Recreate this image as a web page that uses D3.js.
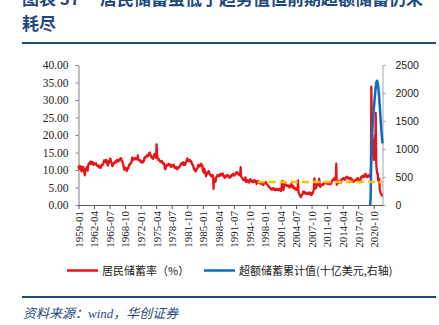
<!DOCTYPE html>
<html><head><meta charset="utf-8">
<script src="https://cdn.jsdelivr.net/npm/d3@7"></script>
<style>body{margin:0;background:#fff}svg{display:block}</style>
</head><body>
<svg id="c" width="439" height="325"></svg>
<script>
// ---------- data ----------
const startMonth = "1959-01";
// US personal saving rate (%), monthly from 1959-01
const savingRate = [
11.2,10.6,10.3,11.2,10.6,10.8,11.0,9.8,9.6,10.2,10.8,10.9,
10.9,10.4,9.6,9.1,8.5,9.8,10.2,10.0,10.5,10.9,10.4,9.8,
11.0,11.6,11.9,11.8,12.1,12.0,12.4,11.7,12.1,12.3,12.2,12.3,
11.7,11.5,11.9,12.0,11.8,11.9,11.7,11.6,11.9,11.5,11.3,11.4,
11.1,11.0,11.3,10.9,10.7,10.9,10.8,11.0,10.6,11.2,11.4,11.5,
11.3,11.6,11.9,12.3,12.7,12.5,12.6,12.2,12.9,12.4,12.8,12.7,
11.8,11.5,11.3,11.8,12.1,12.6,12.5,13.0,13.3,12.6,12.2,12.1,
11.6,11.1,11.2,11.9,11.7,12.0,11.9,12.3,12.4,12.5,12.2,12.5,
12.7,12.9,12.6,12.8,12.4,12.7,12.9,13.0,12.9,13.3,13.4,13.3,
12.8,12.6,12.4,12.0,11.6,11.2,10.4,10.1,10.3,10.2,10.6,10.5,
10.0,9.7,10.1,10.3,10.6,10.4,11.0,11.4,11.6,11.5,11.8,11.9,
12.1,12.3,12.7,13.6,13.0,12.9,13.1,13.2,13.0,13.4,13.3,13.1,
13.3,13.4,13.1,13.0,13.4,14.2,13.1,13.0,12.8,12.7,12.6,12.8,
12.4,12.2,12.3,12.4,12.5,12.1,12.3,12.6,12.5,13.2,13.6,13.4,
13.5,13.8,13.9,14.0,14.1,14.3,13.9,14.2,14.3,14.7,14.9,15.0,
14.5,14.2,14.0,13.6,13.5,13.8,13.6,13.2,13.5,13.8,14.2,14.6,
14.0,13.8,13.5,13.9,17.3,15.6,13.6,13.2,12.9,13.2,13.0,12.8,
12.6,12.4,12.5,12.3,12.4,12.6,12.3,12.0,11.8,11.9,12.0,11.8,
11.0,10.4,10.2,10.6,10.9,11.2,11.5,11.3,11.5,11.4,11.6,11.8,
11.4,11.6,11.3,11.1,10.9,11.2,11.3,11.4,11.2,11.0,11.3,11.5,
11.2,10.9,10.8,10.5,10.7,10.9,10.6,10.3,10.2,10.5,10.6,10.8,
10.7,10.8,11.0,11.3,11.5,11.7,11.9,12.0,11.8,11.6,11.9,12.2,
11.6,11.4,11.7,11.8,11.5,12.0,12.3,12.6,12.9,13.3,13.0,12.6,
12.5,12.6,12.8,12.9,12.7,12.4,12.6,12.4,12.0,11.7,11.5,11.6,
11.0,10.6,10.2,10.4,10.0,9.8,9.6,9.7,10.1,10.3,10.4,10.6,
11.2,11.5,11.4,11.3,11.0,11.2,11.5,11.6,11.8,11.4,11.2,11.3,
10.0,9.6,9.3,9.8,10.4,9.6,9.5,8.8,8.2,8.6,8.9,9.2,
9.0,9.3,9.6,9.7,9.4,9.0,8.8,8.6,8.4,8.2,8.5,8.6,
8.4,8.5,8.1,4.6,7.0,7.2,7.4,6.9,6.6,7.6,8.0,8.2,
8.3,8.6,8.5,8.2,8.4,8.3,8.6,8.7,8.9,8.4,8.5,8.7,
8.6,8.8,9.0,8.7,8.2,8.3,8.0,7.8,7.9,8.2,8.4,8.3,
8.2,8.4,8.6,8.5,8.1,8.2,8.0,7.8,7.9,8.2,8.0,8.3,
8.6,8.4,8.5,8.7,8.9,8.6,8.4,8.5,8.9,8.7,8.8,9.1,
9.3,9.4,9.2,9.0,8.9,9.1,8.7,8.8,8.5,8.9,9.3,10.8,
8.2,8.0,7.9,7.7,7.6,7.3,7.1,7.0,7.2,7.4,7.3,7.9,
6.6,6.7,6.9,6.8,7.1,6.7,6.9,6.5,6.4,6.8,7.0,7.4,
7.1,7.0,6.9,6.7,6.5,6.8,7.0,6.8,6.6,6.9,7.1,7.0,
6.7,6.8,6.5,6.0,6.6,6.8,6.7,6.9,6.6,6.4,6.3,6.2,
6.3,6.1,6.2,6.4,6.6,6.3,5.9,5.7,5.8,6.0,6.1,6.2,
6.3,6.4,6.6,6.3,6.0,5.9,5.8,5.6,5.5,5.4,5.2,5.1,
5.0,4.8,4.7,4.5,4.4,4.6,4.5,4.7,4.4,4.8,4.6,4.4,
4.5,4.3,4.2,4.6,4.4,4.5,4.6,4.3,4.4,4.5,4.2,4.3,
4.6,4.5,4.4,4.2,4.0,4.3,5.4,6.7,6.9,4.5,4.3,4.6,
5.8,5.9,5.7,5.8,5.9,5.8,5.5,5.4,5.5,5.6,5.4,5.6,
5.3,5.1,5.0,5.2,5.6,5.7,6.0,5.9,5.4,5.0,5.3,5.4,
5.0,4.8,4.7,4.5,4.6,4.8,4.6,4.3,4.5,4.4,5.0,7.0,
3.7,3.4,3.2,2.9,2.7,2.4,2.2,2.5,2.9,2.8,3.0,3.2,
3.8,3.9,3.7,3.5,3.3,3.6,3.4,3.5,3.2,3.3,3.2,3.4,
3.3,3.2,3.6,3.4,3.1,3.0,3.2,3.5,3.3,2.9,3.0,3.3,
3.4,3.8,4.2,4.7,7.6,6.2,5.5,4.7,4.9,5.2,6.0,6.4,
6.0,5.7,5.9,6.3,7.5,6.0,5.4,5.2,5.6,5.5,5.7,5.8,
5.9,5.8,5.7,6.0,6.3,6.2,6.4,6.5,6.3,6.2,6.2,6.1,
6.4,6.6,6.2,6.0,6.1,6.3,6.3,6.1,5.9,6.0,6.2,6.4,
6.8,7.0,7.1,7.3,7.4,7.6,7.3,7.1,7.0,7.9,8.6,11.8,
5.8,6.0,6.1,6.3,6.5,6.7,6.5,6.6,6.8,6.6,6.5,6.4,
7.2,7.4,7.5,7.4,7.6,7.7,7.5,7.4,7.2,7.5,7.6,7.7,
7.9,8.1,7.8,7.7,7.9,7.6,7.5,7.6,7.4,7.5,7.8,7.6,
7.4,7.2,7.5,7.0,6.7,6.6,6.8,6.9,6.8,6.9,7.1,7.0,
7.1,7.3,7.4,7.2,7.6,7.7,7.4,7.2,6.8,6.6,6.5,6.7,
7.4,7.9,8.1,8.0,8.2,8.0,8.3,8.2,8.0,8.1,8.3,8.7,
8.9,8.7,8.3,8.0,8.1,8.3,8.0,8.2,8.5,8.4,8.1,8.3,
8.1,8.6,12.3,33.8,24.8,19.2,19.0,14.6,14.3,13.3,12.9,13.1,
19.8,13.5,26.3,12.7,10.6,9.5,8.9,9.1,7.1,6.9,6.9,7.5,
4.5,4.2,3.5,3.2,3.1,2.9,2.7,2.8
];
// cumulative excess savings (billion USD, right axis), monthly from 2020-01
const excessStart = "2020-01";
const excessSavings = [
0,100,450,800,1050,1250,1400,1520,1620,1710,1790,1870,
1960,2030,2110,2160,2200,2220,2210,2180,2130,2060,1980,1880,
1780,1670,1560,1450,1350,1260,1180,1100
];
// trend / average saving rate line (left axis)
const trendStart = "1996-07", trendEnd = "2022-08", trendValue = 6.6;

const xTickLabels = ["1959-01","1962-04","1965-07","1968-10","1972-01","1975-04","1978-07","1981-10","1985-01","1988-04","1991-07","1994-10","1998-01","2001-04","2004-07","2007-10","2011-01","2014-04","2017-07","2020-10"];
const leftTicks = [0,5,10,15,20,25,30,35,40];
const rightTicks = [0,500,1000,1500,2000,2500];
const domainEnd = "2022-08";

const titleA = "图表 37", titleB = "居民储蓄虽低于趋势值但前期超额储蓄仍未", titleC = "耗尽";
const legendNames = ["居民储蓄率（%）", "超额储蓄累计值(十亿美元,右轴)"];
const sourceText = "资料来源：wind，华创证券";

// ---------- drawing ----------
const parse = d3.timeParse("%Y-%m");
const svg = d3.select("#c");
const L = 78.5, R = 382.5, T = 65, B = 205;
const x = d3.scaleTime().domain([parse(startMonth), parse(domainEnd)]).range([L, R]);
const yL = d3.scaleLinear().domain([0, 40]).range([B, T]);
const yR = d3.scaleLinear().domain([0, 2500]).range([B, T]);

const red = "#E8141B", blue = "#0A6CC2", yellow = "#FFC000", navy = "#1F497D";

// title
svg.append("text").attr("x", 22).attr("y", 5).attr("font-family", "Noto Sans CJK SC")
  .attr("font-weight", 700).attr("font-size", 17).attr("fill", navy).text(titleA);
svg.append("text").attr("x", 100).attr("y", 5).attr("font-family", "Noto Sans CJK SC")
  .attr("font-weight", 700).attr("font-size", 17).attr("fill", navy).text(titleB);
svg.append("text").attr("x", 22).attr("y", 30).attr("font-family", "Noto Sans CJK SC")
  .attr("font-weight", 700).attr("font-size", 17).attr("fill", navy).text(titleC);
svg.append("line").attr("x1", 22).attr("x2", 436).attr("y1", 43).attr("y2", 43)
  .attr("stroke", navy).attr("stroke-width", 2);

// axes
const gL = svg.append("g").attr("transform", `translate(${L},0)`)
  .call(d3.axisLeft(yL).tickValues(leftTicks).tickFormat(d3.format(".2f")).tickSize(3).tickSizeOuter(0));
gL.selectAll("text").attr("font-family", "Liberation Serif").attr("font-size", 11.5).attr("fill", "#222").attr("dx", "-4");
gL.selectAll("line,path").attr("stroke", "#7f7f7f");

const gR = svg.append("g").attr("transform", `translate(${R},0)`)
  .call(d3.axisRight(yR).tickValues(rightTicks).tickFormat(d3.format("d")).tickSize(3).tickSizeOuter(0));
gR.selectAll("text").attr("font-family", "Liberation Sans").attr("font-size", 10.5).attr("fill", "#222").attr("dx", "7");
gR.selectAll("line,path").attr("stroke", "#a6a6a6");

const gX = svg.append("g").attr("transform", `translate(0,${B})`)
  .call(d3.axisBottom(x).tickValues(xTickLabels.map(parse)).tickFormat(d3.timeFormat("%Y-%m")).tickSize(4).tickSizeOuter(0));
gX.selectAll("line,path").attr("stroke", "#595959");
gX.selectAll("text").attr("font-family", "Liberation Serif").attr("font-size", 11).attr("fill", "#222")
  .attr("transform", "rotate(-90)").attr("text-anchor", "end")
  .attr("x", -6).attr("y", 0).attr("dy", "0.35em");

// series
const redPts = savingRate.map((v, i) => [d3.timeMonth.offset(parse(startMonth), i), v]);
svg.append("path").datum(redPts)
  .attr("d", d3.line().x(d => x(d[0])).y(d => yL(d[1])))
  .attr("fill", "none").attr("stroke", red).attr("stroke-width", 2.3).attr("stroke-linejoin", "round");

const bluePts = excessSavings.map((v, i) => [d3.timeMonth.offset(parse(excessStart), i), v]);
svg.append("path").datum(bluePts)
  .attr("d", d3.line().curve(d3.curveMonotoneX).x(d => x(d[0])).y(d => yR(d[1])))
  .attr("fill", "none").attr("stroke", blue).attr("stroke-width", 2.5);

svg.append("line").attr("x1", x(parse(trendStart))).attr("x2", x(parse(trendEnd)))
  .attr("y1", yL(trendValue)).attr("y2", yL(trendValue))
  .attr("stroke", yellow).attr("stroke-width", 2.5).attr("stroke-dasharray", "7,4");

// legend
const lg = [[67, red], [204, blue]];
lg.forEach((l, i) => {
  svg.append("line").attr("x1", l[0]).attr("x2", l[0] + 31).attr("y1", 270.5).attr("y2", 270.5)
    .attr("stroke", l[1]).attr("stroke-width", 2.5);
  svg.append("text").attr("x", l[0] + 35).attr("y", 274.5).attr("font-family", "Noto Sans CJK SC")
    .attr("font-size", 11).attr("fill", "#222").text(legendNames[i]);
});

svg.append("line").attr("x1", 22).attr("x2", 436).attr("y1", 297).attr("y2", 297)
  .attr("stroke", navy).attr("stroke-width", 2);
svg.append("text").attr("x", 23).attr("y", 318).attr("font-family", "Liberation Serif, Noto Sans CJK SC")
  .attr("font-style", "italic").attr("font-size", 13).attr("fill", navy).text(sourceText);
</script>
</body></html>
